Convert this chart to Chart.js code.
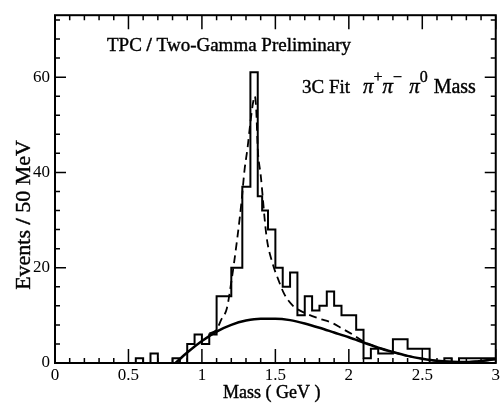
<!DOCTYPE html>
<html lang="en">
<head>
<meta charset="UTF-8">
<title>3C Fit pi+ pi- pi0 Mass</title>
<script src="https://cdn.jsdelivr.net/npm/chart.js"></script>
<style>
  html, body { margin: 0; padding: 0; background: #fff; }
</style>
</head>
<body>
<canvas id="massChart" width="502" height="411"></canvas>
<script>
// histogram: bin edges (GeV), counts[i] fills edges[i]..edges[i+1]
const binEdges = [0, 0.55, 0.60, 0.65, 0.70, 0.80, 0.85, 0.90, 0.95, 1.00, 1.05, 1.10, 1.20, 1.275, 1.33, 1.38,
  1.41, 1.45, 1.50, 1.55, 1.60, 1.65, 1.70, 1.75, 1.80, 1.85, 1.90, 1.95, 2.05, 2.10, 2.15, 2.20, 2.25, 2.30,
  2.40, 2.55, 2.65, 2.70, 2.75, 3.00];
const binCounts = [0, 1, 0, 2, 0, 1, 0, 4, 6, 4, 6, 14, 20, 37, 61, 35,
  32, 28, 20, 16, 19, 10, 14, 11, 12, 15, 12, 10, 7, 1, 3, 2, 2, 5,
  3, 0, 1, 0, 1];

// full fit (dashed)
const fitMass = [1.05, 1.10, 1.13, 1.17, 1.20, 1.24, 1.27, 1.29, 1.31, 1.33, 1.35, 1.36, 1.37, 1.38, 1.40,
  1.44, 1.48, 1.52, 1.56, 1.62, 1.70, 1.80, 1.88, 1.95, 2.03, 2.10, 2.20, 2.30, 2.40, 2.50, 2.60, 2.70, 2.80, 2.90, 3.00];
const fitEvents = [6.2, 7, 9, 11.5, 17, 26, 34, 40.5, 45, 50.5, 55, 56, 53, 45, 39.5,
  26.5, 21, 17.5, 14.5, 12, 10.5, 9.3, 8.5, 7.3, 5.9, 4.5, 3.2, 2.3, 1.5, 0.9, 0.45, 0.25, 0.2, 0.4, 0.8];

// background (solid)
const bgMass = [0.82, 0.90, 1.00, 1.10, 1.20, 1.30, 1.40, 1.50, 1.60, 1.70, 1.80, 1.90, 2.00, 2.10, 2.20,
  2.30, 2.40, 2.50, 2.60, 2.70, 2.80, 2.90, 3.00];
const bgEvents = [0, 2.2, 4.6, 6.6, 8.0, 8.9, 9.3, 9.3, 9.0, 8.3, 7.4, 6.4, 5.4, 4.3, 3.2,
  2.3, 1.5, 0.9, 0.45, 0.25, 0.2, 0.4, 0.8];

const xTicks = [0, 0.5, 1, 1.5, 2, 2.5, 3];
const xTickLabels = ['0', '0.5', '1', '1.5', '2', '2.5', '3'];
const yTicks = [0, 20, 40, 60];
const yTickLabels = ['0', '20', '40', '60'];

const serif = '"Liberation Serif", "Times New Roman", serif';
Chart.defaults.font.family = serif;
Chart.defaults.color = '#000';

const histPoints = binEdges.map((e, i) => ({ x: e, y: binCounts[Math.min(i, binCounts.length - 1)] }));

// draw text pieces one after another, returns total width
function drawRuns(ctx, runs, x, y, measureOnly) {
  let cx = x;
  runs.forEach(r => {
    ctx.font = r.font;
    if (!measureOnly) {
      ctx.fillText(r.text, cx, y + (r.dy || 0));
      ctx.strokeText(r.text, cx, y + (r.dy || 0)); // heavier print look
    }
    cx += ctx.measureText(r.text).width + (r.gap || 0);
  });
  return cx - x;
}

const framePlugin = {
  id: 'frame',
  afterDatasetsDraw(chart) {
    const { ctx, chartArea: a, scales: { x, y } } = chart;
    ctx.save();
    ctx.strokeStyle = '#000';
    ctx.fillStyle = '#000';
    ctx.lineWidth = 2;
    ctx.strokeRect(a.left, a.top, a.right - a.left, a.bottom - a.top);

    // inward ticks on all four sides
    ctx.lineWidth = 1.5;
    ctx.beginPath();
    for (let i = 0; i <= 30; i++) {
      const px = x.getPixelForValue(i / 10);
      const len = i % 5 === 0 ? 14 : 5;
      ctx.moveTo(px, a.bottom); ctx.lineTo(px, a.bottom - len);
      ctx.moveTo(px, a.top); ctx.lineTo(px, a.top + len);
    }
    for (let v = 0; v <= 72; v += 4) {
      const py = y.getPixelForValue(v);
      const len = v % 20 === 0 ? 11 : 5;
      ctx.moveTo(a.left, py); ctx.lineTo(a.left + len, py);
      ctx.moveTo(a.right, py); ctx.lineTo(a.right - len, py);
    }
    ctx.stroke();

    ctx.textBaseline = 'alphabetic';
    ctx.textAlign = 'left';
    ctx.lineWidth = 0.4;
    const reg = n => n + 'px ' + serif;
    const bold = n => 'bold ' + n + 'px ' + serif;
    const ital = n => 'italic ' + n + 'px ' + serif;

    drawRuns(ctx, [
      { text: 'TPC ', font: reg(19) },
      { text: '/', font: bold(19) },
      { text: ' Two-Gamma Preliminary', font: reg(19) }
    ], 107, 51);

    drawRuns(ctx, [
      { text: '3C Fit', font: reg(19), gap: 13 },
      { text: 'π', font: ital(21) },
      { text: '+', font: reg(16), dy: -11, gap: 0 },
      { text: 'π', font: ital(21) },
      { text: '−', font: reg(16), dy: -11, gap: 7 },
      { text: 'π', font: ital(21) },
      { text: '0', font: reg(16), dy: -11, gap: 6 },
      { text: 'Mass', font: reg(20) }
    ], 302, 93);

    // axis titles
    drawRuns(ctx, [{ text: 'Mass ( GeV )', font: reg(18) }], 223, 398);

    const yRuns = [
      { text: 'Events ', font: reg(22) },
      { text: '/', font: bold(22) },
      { text: ' 50 MeV', font: reg(22) }
    ];
    const w = drawRuns(ctx, yRuns, 0, 0, true);
    ctx.translate(30, 215);
    ctx.rotate(-Math.PI / 2);
    drawRuns(ctx, yRuns, -w / 2, 0);
    ctx.restore();
  }
};

new Chart(document.getElementById('massChart'), {
  type: 'line',
  data: {
    datasets: [
      {
        label: 'data',
        data: histPoints,
        stepped: true,
        borderColor: '#000',
        borderWidth: 2,
        pointRadius: 0,
        fill: false
      },
      {
        label: 'fit',
        data: fitMass.map((m, i) => ({ x: m, y: fitEvents[i] })),
        borderColor: '#000',
        borderWidth: 1.8,
        borderDash: [8, 5],
        cubicInterpolationMode: 'monotone',
        pointRadius: 0,
        fill: false
      },
      {
        label: 'background',
        data: bgMass.map((m, i) => ({ x: m, y: bgEvents[i] })),
        borderColor: '#000',
        borderWidth: 2.5,
        cubicInterpolationMode: 'monotone',
        pointRadius: 0,
        fill: false
      }
    ]
  },
  options: {
    responsive: false,
    animation: false,
    layout: { padding: { top: 9, right: 4, left: 0, bottom: 0 } },
    plugins: {
      legend: { display: false },
      tooltip: { enabled: false }
    },
    scales: {
      x: {
        type: 'linear',
        min: 0,
        max: 3,
        grid: { display: false, drawTicks: false },
        border: { display: false },
        afterBuildTicks: s => { s.ticks = xTicks.map(v => ({ value: v })); },
        afterFit: s => { s.height = 48; },
        ticks: {
          padding: 2,
          maxRotation: 0,
          font: { size: 17 },
          callback: (v, i) => xTickLabels[i]
        }
      },
      y: {
        type: 'linear',
        min: 0,
        max: 73,
        grid: { display: false, drawTicks: false },
        border: { display: false },
        afterBuildTicks: s => { s.ticks = yTicks.map(v => ({ value: v })); },
        afterFit: s => { s.width = 55; },
        ticks: {
          padding: 5,
          font: { size: 17 },
          callback: (v, i) => yTickLabels[i]
        }
      }
    }
  },
  plugins: [framePlugin]
});
</script>
</body>
</html>
